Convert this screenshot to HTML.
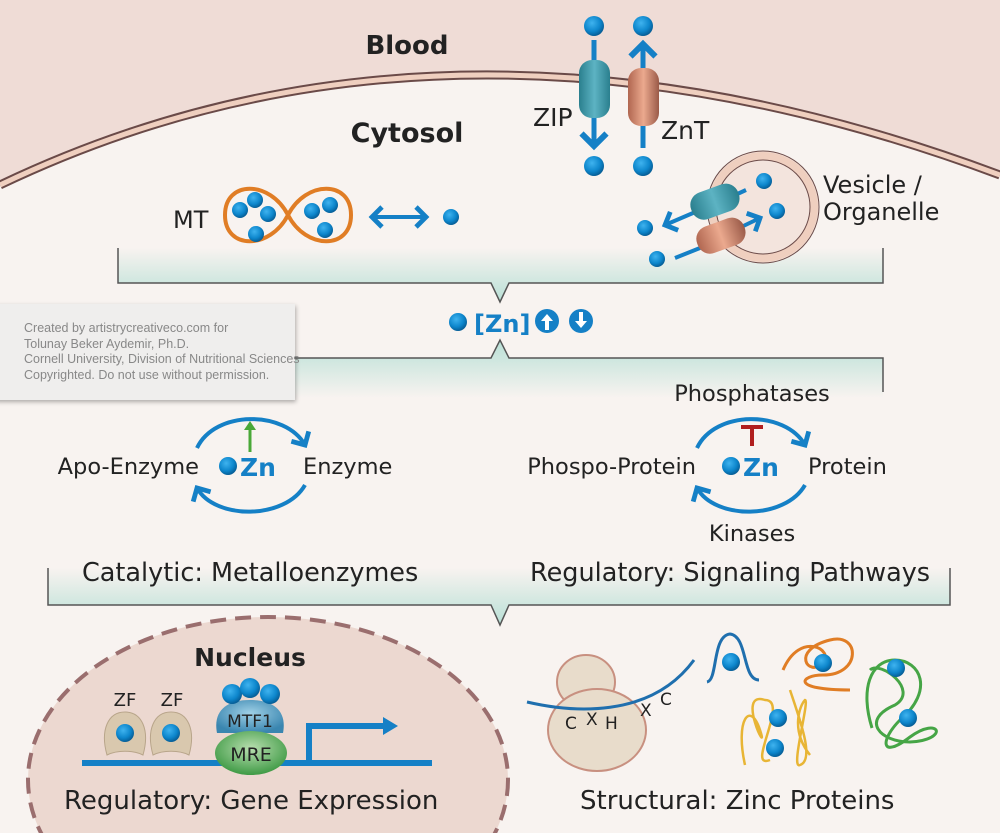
<!DOCTYPE html>
<html><head><meta charset="utf-8"><style>
html,body{margin:0;padding:0;background:#f8f3f0;overflow:hidden;width:1000px;height:833px}
svg{display:block}
text{font-family:"DejaVu Sans","Liberation Sans",sans-serif}
</style></head><body>
<svg width="1000" height="833" viewBox="0 0 1000 833" xmlns="http://www.w3.org/2000/svg">
<defs>
<radialGradient id="dot" cx="0.4" cy="0.35" r="0.7"><stop offset="0" stop-color="#3fb3ef"/><stop offset="0.6" stop-color="#0d86cc"/><stop offset="1" stop-color="#05568c"/></radialGradient>
<linearGradient id="band" x1="0" y1="0" x2="0" y2="1"><stop offset="0" stop-color="#f8f3f0"/><stop offset="1" stop-color="#b9e0d6"/></linearGradient>
<linearGradient id="bandd" x1="0" y1="0" x2="0" y2="1"><stop offset="0" stop-color="#b9e0d6"/><stop offset="1" stop-color="#f8f3f0"/></linearGradient>
<linearGradient id="zip" x1="0" y1="0" x2="1" y2="0"><stop offset="0" stop-color="#2a7f8e"/><stop offset="0.5" stop-color="#5db3c3"/><stop offset="1" stop-color="#2a7f8e"/></linearGradient>
<linearGradient id="znt" x1="0" y1="0" x2="1" y2="0"><stop offset="0" stop-color="#b06650"/><stop offset="0.5" stop-color="#eba98e"/><stop offset="1" stop-color="#9a5a48"/></linearGradient>
<radialGradient id="mre" cx="0.5" cy="0.4" r="0.6"><stop offset="0" stop-color="#b9dfb0"/><stop offset="1" stop-color="#3f9a45"/></radialGradient>
<radialGradient id="mtf" cx="0.5" cy="0.4" r="0.6"><stop offset="0" stop-color="#9fd0e6"/><stop offset="1" stop-color="#3a86b0"/></radialGradient>
<marker id="ah" markerWidth="6" markerHeight="6" refX="3" refY="3" orient="auto" markerUnits="strokeWidth"><path d="M0.5,0.5 L3,3 L0.5,5.5" fill="none" stroke="#1580c6" stroke-width="1.2"/></marker>
<marker id="ahs" markerWidth="6" markerHeight="6" refX="3" refY="3" orient="auto-start-reverse" markerUnits="strokeWidth"><path d="M0.5,0.5 L3,3 L0.5,5.5" fill="none" stroke="#1580c6" stroke-width="1.2"/></marker>
<filter id="sh"><feDropShadow dx="1" dy="2" stdDeviation="2" flood-opacity="0.3"/></filter>
</defs>
<rect width="1000" height="833" fill="#f8f3f0"/>
<path d="M0,0 H1000 V175 Q450,-30 0,185 Z" fill="#efdcd6"/>
<path d="M0,185 Q450,-30 1000,175" fill="none" stroke="#6a4a48" stroke-width="9"/>
<path d="M0,185 Q450,-30 1000,175" fill="none" stroke="#efcfbf" stroke-width="5"/>
<text x="407" y="54" font-size="26" font-weight="bold" text-anchor="middle" fill="#222">Blood</text>
<text x="407" y="142" font-size="27" font-weight="bold" text-anchor="middle" fill="#222">Cytosol</text>

<!-- banner 1 (behind vesicle) -->
<path d="M118,248 V283 H491 L500,302 L509,283 H883 V248 Z" fill="url(#band)"/>
<path d="M118,248 V283 H491 L500,302 L509,283 H883 V248" fill="none" stroke="#555" stroke-width="1.5"/>

<!-- transporters -->
<g stroke="#1580c6" stroke-width="5" fill="none">
<line x1="594" y1="40" x2="594" y2="64"/>
<line x1="594" y1="110" x2="594" y2="146" marker-end="url(#ah)"/>
<line x1="643" y1="148" x2="643" y2="122"/>
<line x1="643" y1="72" x2="643" y2="44" marker-end="url(#ah)"/>
</g>
<rect x="579" y="60" width="31" height="58" rx="13" fill="url(#zip)"/>
<rect x="628" y="68" width="31" height="58" rx="13" fill="url(#znt)"/>
<circle cx="594" cy="26" r="10" fill="url(#dot)"/><circle cx="643" cy="26" r="10" fill="url(#dot)"/>
<circle cx="594" cy="166" r="10" fill="url(#dot)"/><circle cx="643" cy="166" r="10" fill="url(#dot)"/>
<text x="533" y="126" font-size="25" fill="#222">ZIP</text>
<text x="661" y="139" font-size="25" fill="#222">ZnT</text>

<!-- MT -->
<path d="M288,215 C270,180 225,180 225,215 C225,250 270,250 288,215 C306,180 351,180 351,215 C351,250 306,250 288,215 Z" fill="none" stroke="#e07d25" stroke-width="4"/>
<circle cx="240" cy="210" r="8" fill="url(#dot)"/><circle cx="255" cy="200" r="8" fill="url(#dot)"/><circle cx="268" cy="214" r="8" fill="url(#dot)"/><circle cx="256" cy="234" r="8" fill="url(#dot)"/>
<circle cx="312" cy="211" r="8" fill="url(#dot)"/><circle cx="330" cy="205" r="8" fill="url(#dot)"/><circle cx="325" cy="230" r="8" fill="url(#dot)"/>
<text x="173" y="228" font-size="24" fill="#222">MT</text>
<line x1="372" y1="217" x2="426" y2="217" stroke="#1580c6" stroke-width="4" marker-start="url(#ahs)" marker-end="url(#ah)"/>
<circle cx="451" cy="217" r="8" fill="url(#dot)"/>

<!-- vesicle -->
<circle cx="763" cy="207" r="56" fill="#f4e2da" stroke="#6a4a48" stroke-width="1"/>
<circle cx="763" cy="207" r="51" fill="#f4e2da" stroke="#efcfbf" stroke-width="8"/>
<circle cx="763" cy="207" r="47" fill="#f3e4dd" stroke="#6a4a48" stroke-width="1"/>
<g stroke="#1580c6" stroke-width="4" fill="none">
<line x1="746" y1="190" x2="733" y2="196"/>
<line x1="700" y1="210" x2="665" y2="225" marker-end="url(#ah)"/>
<line x1="675" y1="258" x2="700" y2="248"/>
<line x1="735" y1="230" x2="760" y2="218" marker-end="url(#ah)"/>
</g>
<g transform="rotate(-20 714 202)"><rect x="690" y="188" width="50" height="28" rx="13" fill="url(#zip)"/></g>
<g transform="rotate(-20 720 236)"><rect x="696" y="222" width="50" height="28" rx="13" fill="url(#znt)"/></g>
<circle cx="764" cy="181" r="8" fill="url(#dot)"/><circle cx="777" cy="211" r="8" fill="url(#dot)"/>
<circle cx="645" cy="228" r="8" fill="url(#dot)"/><circle cx="657" cy="259" r="8" fill="url(#dot)"/>
<text x="823" y="193" font-size="24" fill="#222">Vesicle /</text>
<text x="823" y="220" font-size="24" fill="#222">Organelle</text>

<!-- banner 2 -->
<path d="M0,358 H491 L500,340 L509,358 H883 V398 H0 Z" fill="url(#bandd)"/>
<path d="M0,358 H491 L500,340 L509,358 H883 V392" fill="none" stroke="#555" stroke-width="1.5"/>

<!-- Zn indicator -->
<circle cx="458" cy="322" r="9" fill="url(#dot)"/>
<text x="474" y="332" font-size="24" font-weight="bold" fill="#1580c6">[Zn]</text>
<circle cx="547" cy="321" r="12" fill="#1580c6"/><path d="M547,314 L541,321 H545 V330 H549 V321 H553 Z" fill="#fff"/>
<circle cx="581" cy="321" r="12" fill="#1580c6"/><path d="M581,328 L575,321 H579 V312 H583 V321 H587 Z" fill="#fff"/>

<!-- watermark -->
<rect x="-5" y="304" width="300" height="96" fill="#efeeed" filter="url(#sh)"/>
<g font-size="12.5" fill="#888" style="font-family:'Liberation Sans',sans-serif">
<text x="24" y="332" style="font-family:'Liberation Sans',sans-serif">Created by artistrycreativeco.com for</text>
<text x="24" y="348" style="font-family:'Liberation Sans',sans-serif">Tolunay Beker Aydemir, Ph.D.</text>
<text x="24" y="363" style="font-family:'Liberation Sans',sans-serif">Cornell University, Division of Nutritional Sciences</text>
<text x="24" y="379" style="font-family:'Liberation Sans',sans-serif">Copyrighted. Do not use without permission.</text>
</g>

<!-- left cycle -->
<g stroke="#1580c6" stroke-width="4" fill="none">
<path d="M197,448 C215,410 285,410 305,445" marker-end="url(#ah)"/>
<path d="M305,485 C285,520 215,520 197,488" marker-end="url(#ah)"/>
</g>
<line x1="250" y1="452" x2="250" y2="428" stroke="#4aa838" stroke-width="3"/>
<path d="M244,430 L250,421 L256,430 Z" fill="#4aa838"/>
<text x="199" y="474" font-size="22.5" text-anchor="end" fill="#222">Apo-Enzyme</text>
<circle cx="228" cy="466" r="9" fill="url(#dot)"/>
<text x="240" y="476" font-size="25" font-weight="bold" fill="#1580c6">Zn</text>
<text x="303" y="474" font-size="22.5" fill="#222">Enzyme</text>

<!-- right cycle -->
<g stroke="#1580c6" stroke-width="4" fill="none">
<path d="M697,448 C715,410 785,410 805,445" marker-end="url(#ah)"/>
<path d="M805,485 C785,520 715,520 697,488" marker-end="url(#ah)"/>
</g>
<text x="752" y="401" font-size="22.5" text-anchor="middle" fill="#222">Phosphatases</text>
<path d="M741,427 H763 M752,427 V446" stroke="#b01e1e" stroke-width="4"/>
<text x="696" y="474" font-size="22.5" text-anchor="end" fill="#222">Phospo-Protein</text>
<circle cx="731" cy="466" r="9" fill="url(#dot)"/>
<text x="743" y="476" font-size="25" font-weight="bold" fill="#1580c6">Zn</text>
<text x="808" y="474" font-size="22.5" fill="#222">Protein</text>
<text x="752" y="541" font-size="22.5" text-anchor="middle" fill="#222">Kinases</text>

<!-- banner 3 -->
<path d="M48,568 V605 H491 L500,625 L509,605 H950 V568 Z" fill="url(#band)"/>
<path d="M48,568 V605 H491 L500,625 L509,605 H950 V568" fill="none" stroke="#555" stroke-width="1.5"/>
<text x="82" y="581" font-size="25.5" fill="#222">Catalytic: Metalloenzymes</text>
<text x="530" y="581" font-size="25.5" fill="#222">Regulatory: Signaling Pathways</text>

<!-- nucleus -->
<ellipse cx="268" cy="780" rx="240" ry="163" fill="#ecd8d0" stroke="#9a6e6e" stroke-width="4" stroke-dasharray="16,9"/>
<text x="250" y="666" font-size="25" font-weight="bold" text-anchor="middle" fill="#222">Nucleus</text>
<text x="125" y="706" font-size="18" text-anchor="middle" fill="#222">ZF</text>
<text x="172" y="706" font-size="18" text-anchor="middle" fill="#222">ZF</text>
<path d="M107,755 C100,730 108,712 125,712 C142,712 150,730 143,755 C133,750 117,750 107,755 Z" fill="#d9c8ae" stroke="#b8a58a"/>
<path d="M153,755 C146,730 154,712 171,712 C188,712 196,730 189,755 C179,750 163,750 153,755 Z" fill="#d9c8ae" stroke="#b8a58a"/>
<circle cx="125" cy="733" r="9" fill="url(#dot)"/><circle cx="171" cy="733" r="9" fill="url(#dot)"/>
<line x1="82" y1="763" x2="432" y2="763" stroke="#1580c6" stroke-width="6"/>
<path d="M309,763 V726 H385" fill="none" stroke="#1580c6" stroke-width="6"/>
<path d="M383,717 L398,726 L383,735 Z" fill="#1580c6"/>
<path d="M217,733 C213,712 225,700 250,700 C275,700 287,712 283,733 Z" fill="url(#mtf)"/>
<text x="250" y="727" font-size="17" text-anchor="middle" fill="#222">MTF1</text>
<circle cx="232" cy="694" r="10" fill="url(#dot)"/><circle cx="250" cy="688" r="10" fill="url(#dot)"/><circle cx="270" cy="694" r="10" fill="url(#dot)"/>
<ellipse cx="251" cy="753" rx="36" ry="22" fill="url(#mre)"/>
<text x="251" y="761" font-size="19" text-anchor="middle" fill="#222">MRE</text>
<text x="64" y="809" font-size="26" fill="#222">Regulatory: Gene Expression</text>

<!-- structural -->
<ellipse cx="586" cy="682" rx="29" ry="27" fill="#e8dccb" stroke="#c89080" stroke-width="2"/>
<ellipse cx="597" cy="730" rx="49" ry="41" fill="#e8dccb" stroke="#c89080" stroke-width="2"/>
<path d="M527,702 C570,712 650,720 694,660" fill="none" stroke="#1f6fae" stroke-width="3"/>
<text x="565" y="729" font-size="17" fill="#222">C</text><text x="586" y="725" font-size="17" fill="#222">X</text><text x="605" y="729" font-size="17" fill="#222">H</text>
<text x="640" y="716" font-size="17" fill="#222">X</text><text x="660" y="705" font-size="17" fill="#222">C</text>
<path d="M707,682 C718,680 712,636 730,634 C748,636 742,680 759,680" fill="none" stroke="#1f6fae" stroke-width="3"/>
<circle cx="731" cy="662" r="9" fill="url(#dot)"/>
<path d="M783,670 C800,630 835,650 823,663 C808,678 790,650 830,640 C860,632 862,675 823,675 C800,675 790,690 850,690" fill="none" stroke="#e07d25" stroke-width="3"/>
<circle cx="823" cy="663" r="9" fill="url(#dot)"/>
<g fill="none" stroke="#e8b535" stroke-width="2.5">
<path d="M745,765 C735,720 750,700 760,730 C770,760 735,690 765,700 C790,700 745,770 770,760"/>
<path d="M790,690 C800,720 815,760 800,765 C790,770 810,700 805,700 C800,705 790,730 810,755"/>
</g>
<circle cx="778" cy="718" r="9" fill="url(#dot)"/><circle cx="775" cy="748" r="9" fill="url(#dot)"/>
<path d="M872,728 C860,690 870,660 895,660 C920,660 935,690 900,720 C880,740 880,760 910,737 C940,715 950,740 910,742 C880,742 860,720 895,705 C920,690 880,660 870,670" fill="none" stroke="#46a546" stroke-width="3"/>
<circle cx="896" cy="668" r="9" fill="url(#dot)"/><circle cx="908" cy="718" r="9" fill="url(#dot)"/>
<text x="580" y="809" font-size="26" fill="#222">Structural: Zinc Proteins</text>
</svg>
</body></html>
